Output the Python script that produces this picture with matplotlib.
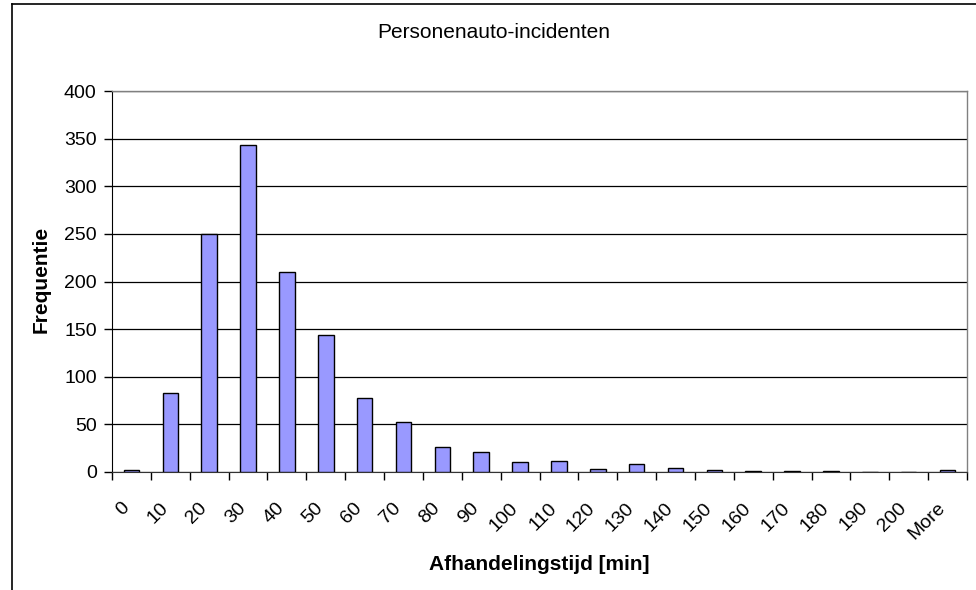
import matplotlib.pyplot as plt
import matplotlib.transforms as mtransforms
from matplotlib.lines import Line2D

# ── Data ──────────────────────────────────────────────────────────────────────
bins = ['0', '10', '20', '30', '40', '50', '60', '70', '80', '90', '100',
        '110', '120', '130', '140', '150', '160', '170', '180', '190', '200',
        'More']
frequency = [2, 83, 250, 343, 210, 144, 78, 53, 26, 21, 11,
             12, 3, 8, 4, 2, 1, 1, 1, 0, 0, 2]
y_ticks = [0, 50, 100, 150, 200, 250, 300, 350, 400]

plt.rcParams['font.family'] = ['Liberation Sans', 'DejaVu Sans']

# ── Figure ────────────────────────────────────────────────────────────────────
fig = plt.figure(figsize=(9.76, 5.90), dpi=100)
ax = fig.add_axes([112 / 976, 1 - 472 / 590, 855 / 976, 381 / 590])

x = range(len(bins))
ax.bar(x, frequency, width=0.4, color='#9999FF', edgecolor='black',
       linewidth=1.0, zorder=3)

ax.set_xlim(-0.5, len(bins) - 0.5)
ax.set_ylim(0, 400)
ax.set_yticks(y_ticks)
ax.yaxis.grid(True, color='black', linewidth=0.9, zorder=0)
ax.set_axisbelow(True)

# category boundary ticks, labels at centres
ax.set_xticks([i - 0.5 for i in range(len(bins) + 1)], minor=False)
ax.set_xticklabels([])
ax.set_xticks(list(x), minor=True)
ax.set_xticklabels(bins, minor=True, rotation=45, ha='right', va='center',
                   rotation_mode='anchor', fontsize=14)
ax.tick_params(axis='x', which='major', direction='out', length=6,
               color='black', width=1)
ax.tick_params(axis='x', which='minor', length=0, pad=24)
ax.tick_params(axis='y', direction='out', length=6, width=1, labelsize=14,
               pad=5)

offset = mtransforms.ScaledTranslation(-5 / 100, 0, fig.dpi_scale_trans)
for lbl in ax.get_xticklabels(minor=True):
    lbl.set_transform(lbl.get_transform() + offset)

for side in ['top', 'right']:
    ax.spines[side].set_color('#808080')
    ax.spines[side].set_linewidth(1.0)
ax.spines['left'].set_color('black')
ax.spines['bottom'].set_color('#333333')

# ── Text ──────────────────────────────────────────────────────────────────────
fig.text(494 / 976, 1 - 33 / 590, 'Personenauto-incidenten', ha='center',
         va='center', fontsize=15)
fig.text(41 / 976, 1 - 279 / 590, 'Frequentie', rotation=90, ha='center',
         va='center', fontsize=15, fontweight='bold')
fig.text(539 / 976, 1 - 565 / 590, 'Afhandelingstijd [min]', ha='center',
         va='center', fontsize=15, fontweight='bold')

# chart border (cut off at right and bottom)
fig.add_artist(Line2D([11.5 / 976, 11.5 / 976], [0, 1 - 3.5 / 590],
                      transform=fig.transFigure, color='black', linewidth=1.2))
fig.add_artist(Line2D([11.5 / 976, 1], [1 - 3.5 / 590, 1 - 3.5 / 590],
                      transform=fig.transFigure, color='black', linewidth=1.2))

fig.savefig('out.png', dpi=100)
